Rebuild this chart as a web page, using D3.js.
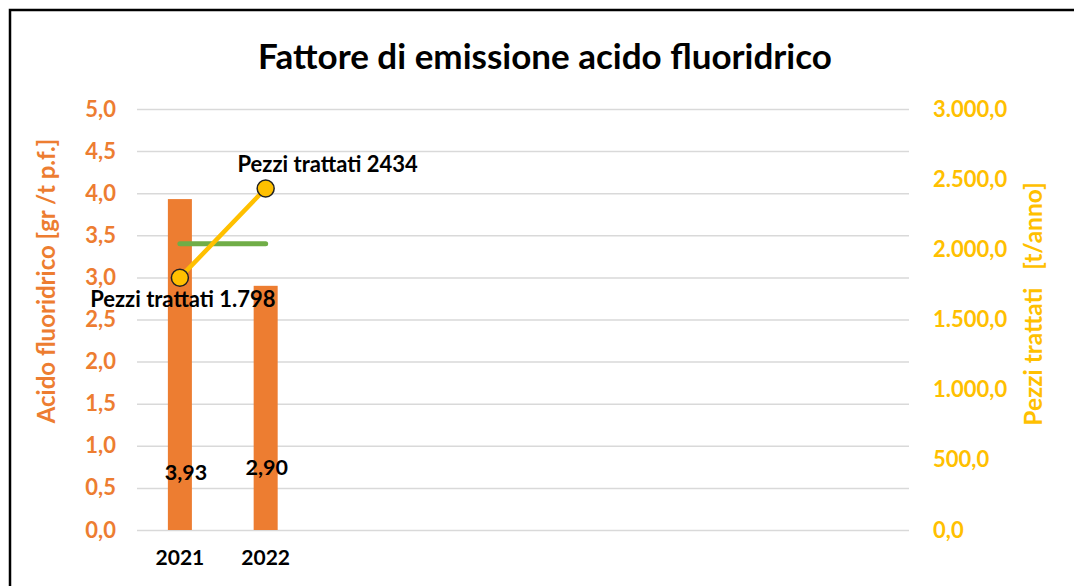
<!DOCTYPE html>
<html><head><meta charset="utf-8">
<script src="https://cdn.jsdelivr.net/npm/d3@7"></script>
<style>body{margin:0;background:#fff}svg{display:block}</style>
</head><body>
<svg id="c" width="1074" height="586"></svg>
<script>
const categories = ["2021","2022","c3","c4","c5","c6","c7","c8","c9"];
const categoryLabels = ["2021","2022","","","","","","",""];
const acidoValues = [3.93, 2.90];
const acidoLabels = ["3,93","2,90"];
const limitValues = [3.4, 3.4];
const pezziValues = [1798, 2434];
const pezziLabels = ["Pezzi trattati 1.798","Pezzi trattati 2434"];
const leftTicks = [0,0.5,1,1.5,2,2.5,3,3.5,4,4.5,5];
const rightTicks = [0,500,1000,1500,2000,2500,3000];

const svg = d3.select("#c");
const F = "Lato, 'Open Sans', sans-serif";
const m = {l:137, r:909, t:109, b:530};
const orange = "#ED7D31", yellow = "#FFC000", green = "#70AD47";

svg.append("path").attr("d","M10,586 L10,10 L1074,10").attr("fill","none").attr("stroke","#000").attr("stroke-width",2.5);

const x = d3.scaleBand().domain(categories).range([m.l,m.r]).paddingInner(0.72).paddingOuter(0.36);
const yL = d3.scaleLinear().domain([0,5]).range([m.b,m.t]);
const yR = d3.scaleLinear().domain([0,3000]).range([m.b,m.t]);
const cx = c => x(c)+x.bandwidth()/2;

const fmtL = d => d3.format(".1f")(d).replace(".",",");
const fmtR = d => { const s = d3.format(",.1f")(d); return s.replace(/,/g,"#").replace(".",",").replace(/#/g,"."); };

// grid
const gl = svg.append("g").call(d3.axisLeft(yL).tickValues(leftTicks).tickSize(-(m.r-m.l)).tickFormat(fmtL).tickPadding(21))
  .attr("transform",`translate(${m.l},0)`);
gl.select(".domain").remove();
gl.selectAll(".tick line").attr("stroke","#D9D9D9").attr("stroke-width",1.5);
gl.selectAll(".tick text").attr("fill",orange).attr("font-family",F).attr("font-weight","bold").attr("font-size",22);

const gr = svg.append("g").call(d3.axisRight(yR).tickValues(rightTicks).tickSize(0).tickFormat(fmtR).tickPadding(24))
  .attr("transform",`translate(${m.r},0)`);
gr.select(".domain").remove();
gr.selectAll(".tick text").attr("fill",yellow).attr("font-family",F).attr("font-weight","bold").attr("font-size",22);

const gx = svg.append("g").attr("transform",`translate(0,${m.b})`)
  .call(d3.axisBottom(x).tickSize(0).tickPadding(20).tickFormat((d,i)=>categoryLabels[i]));
gx.select(".domain").remove();
gx.selectAll(".tick text").attr("fill","#000").attr("font-family",F).attr("font-weight","bold").attr("font-size",21);

// bars
svg.append("g").selectAll("rect").data(acidoValues).join("rect")
  .attr("x",(d,i)=>x(categories[i])).attr("width",x.bandwidth())
  .attr("y",d=>yL(d)).attr("height",d=>yL(0)-yL(d)).attr("fill",orange);

// limit line
svg.append("path").datum(limitValues)
  .attr("d",d3.line().x((d,i)=>cx(categories[i])).y(d=>yL(d)))
  .attr("fill","none").attr("stroke",green).attr("stroke-width",5).attr("stroke-linecap","round");

// pezzi line
svg.append("path").datum(pezziValues)
  .attr("d",d3.line().x((d,i)=>cx(categories[i])).y(d=>yR(d)))
  .attr("fill","none").attr("stroke",yellow).attr("stroke-width",4.5).attr("stroke-linecap","round");
svg.append("g").selectAll("circle").data(pezziValues).join("circle")
  .attr("cx",(d,i)=>cx(categories[i])).attr("cy",d=>yR(d)).attr("r",8.5)
  .attr("fill",yellow).attr("stroke","#222").attr("stroke-width",1.5);

// bar labels
const barLabOff = [[6,472],[1,467]];
svg.append("g").selectAll("text").data(acidoLabels).join("text")
  .attr("x",(d,i)=>cx(categories[i])+barLabOff[i][0]).attr("y",(d,i)=>barLabOff[i][1])
  .attr("dy","0.35em").attr("text-anchor","middle")
  .attr("font-family",F).attr("font-weight","bold").attr("font-size",21.5).attr("fill","#000").text(d=>d);

// pezzi labels
const pzOff = [[3,22],[62,-24]];
svg.append("g").selectAll("text").data(pezziLabels).join("text")
  .attr("x",(d,i)=>cx(categories[i])+pzOff[i][0]).attr("y",(d,i)=>yR(pezziValues[i])+pzOff[i][1])
  .attr("dy","0.35em").attr("text-anchor","middle")
  .attr("font-family",F).attr("font-weight","bold").attr("font-size",22).attr("fill","#000").text(d=>d);

// title
svg.append("text").attr("x",545).attr("y",57).attr("dy","0.35em").attr("text-anchor","middle")
  .attr("font-family",F).attr("font-weight","bold").attr("font-size",35).attr("fill","#000")
  .text("Fattore di emissione acido fluoridrico");

// axis titles
svg.append("text").attr("transform","translate(47,281) rotate(-90)").attr("dy","0.35em").attr("text-anchor","middle")
  .attr("font-family",F).attr("font-weight","bold").attr("font-size",24).attr("fill",orange)
  .text("Acido fluoridrico [gr /t p.f.]");
svg.append("text").attr("transform","translate(1033,304) rotate(-90)").attr("dy","0.35em").attr("text-anchor","middle")
  .attr("font-family",F).attr("font-weight","bold").attr("font-size",24.5).attr("fill",yellow)
  .style("white-space","pre")
  .text("Pezzi trattati   [t/anno]");
</script>
</body></html>
